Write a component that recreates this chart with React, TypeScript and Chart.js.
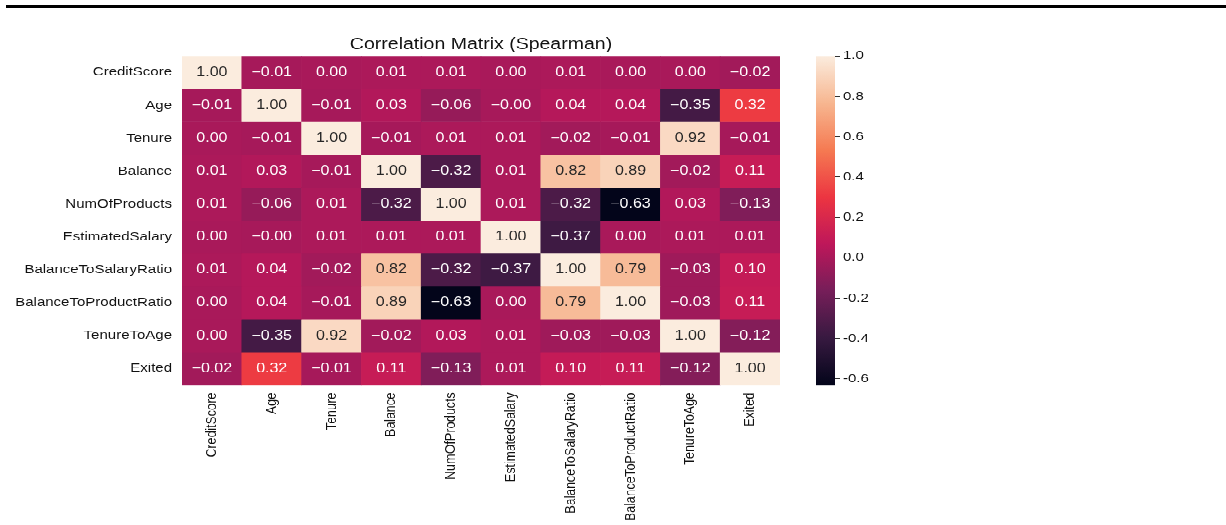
import React, { useEffect, useRef } from "react";
import { Chart, registerables } from "chart.js";

Chart.register(...registerables);

const LABELS = [
  "CreditScore",
  "Age",
  "Tenure",
  "Balance",
  "NumOfProducts",
  "EstimatedSalary",
  "BalanceToSalaryRatio",
  "BalanceToProductRatio",
  "TenureToAge",
  "Exited",
];

const ROW_CREDITSCORE = [1.0, -0.01, 0.0, 0.01, 0.01, 0.0, 0.01, 0.0, 0.0, -0.02];
const ROW_AGE = [-0.01, 1.0, -0.01, 0.03, -0.06, -0.004, 0.04, 0.04, -0.35, 0.32];
const ROW_TENURE = [0.0, -0.01, 1.0, -0.01, 0.01, 0.01, -0.02, -0.01, 0.92, -0.01];
const ROW_BALANCE = [0.01, 0.03, -0.01, 1.0, -0.32, 0.01, 0.82, 0.89, -0.02, 0.11];
const ROW_NUMOFPRODUCTS = [0.01, -0.06, 0.01, -0.32, 1.0, 0.01, -0.32, -0.63, 0.03, -0.13];
const ROW_ESTIMATEDSALARY = [0.0, -0.004, 0.01, 0.01, 0.01, 1.0, -0.37, 0.0, 0.01, 0.01];
const ROW_BALANCETOSALARY = [0.01, 0.04, -0.02, 0.82, -0.32, -0.37, 1.0, 0.79, -0.03, 0.1];
const ROW_BALANCETOPRODUCT = [0.0, 0.04, -0.01, 0.89, -0.63, 0.0, 0.79, 1.0, -0.03, 0.11];
const ROW_TENURETOAGE = [0.0, -0.35, 0.92, -0.02, 0.03, 0.01, -0.03, -0.03, 1.0, -0.12];
const ROW_EXITED = [-0.02, 0.32, -0.01, 0.11, -0.13, 0.01, 0.1, 0.11, -0.12, 1.0];

const MATRIX = [
  ROW_CREDITSCORE,
  ROW_AGE,
  ROW_TENURE,
  ROW_BALANCE,
  ROW_NUMOFPRODUCTS,
  ROW_ESTIMATEDSALARY,
  ROW_BALANCETOSALARY,
  ROW_BALANCETOPRODUCT,
  ROW_TENURETOAGE,
  ROW_EXITED,
];

const VMIN = -0.63;
const VMAX = 1.0;
const COLORBAR_TICKS = [-0.6, -0.4, -0.2, 0.0, 0.2, 0.4, 0.6, 0.8, 1.0];
const TITLE = "Correlation Matrix (Spearman)";

// rocket-like colormap stops (slightly brighter, as in the picture)
const ROCKET: [number, string][] = [
  [0.0, "#03051A"],
  [0.143, "#371940"],
  [0.286, "#761E59"],
  [0.429, "#BE175A"],
  [0.571, "#EC3541"],
  [0.714, "#F57A52"],
  [0.857, "#F7B690"],
  [1.0, "#FBECDE"],
];

const FONT = "'Liberation Sans', Arial, Helvetica, sans-serif";
const SQUASH = 0.8203;
const H = 640;

function hexToRgb(h: string): number[] {
  const n = parseInt(h.slice(1), 16);
  return [(n >> 16) & 255, (n >> 8) & 255, n & 255];
}

function rgbFor(v: number): number[] {
  let t = (v - VMIN) / (VMAX - VMIN);
  t = Math.max(0, Math.min(1, t));
  for (let i = 0; i < ROCKET.length - 1; i++) {
    const [t0, c0] = ROCKET[i];
    const [t1, c1] = ROCKET[i + 1];
    if (t >= t0 && t <= t1) {
      const f = (t - t0) / (t1 - t0);
      const a = hexToRgb(c0);
      const b = hexToRgb(c1);
      return a.map((x, k) => Math.round(x + (b[k] - x) * f));
    }
  }
  return hexToRgb(ROCKET[ROCKET.length - 1][1]);
}

function colorFor(v: number): string {
  const [r, g, b] = rgbFor(v);
  return `rgb(${r},${g},${b})`;
}

function textColorFor(v: number): string {
  const lin = rgbFor(v).map((c) => {
    const s = c / 255;
    return s <= 0.03928 ? s / 12.92 : Math.pow((s + 0.055) / 1.055, 2.4);
  });
  const lum = 0.2126 * lin[0] + 0.7152 * lin[1] + 0.0722 * lin[2];
  return lum > 0.408 ? "#262626" : "#ffffff";
}

function fmt(v: number): string {
  return v.toFixed(2).replace("-", "\u2212");
}

const annotatePlugin = {
  id: "annotate",
  afterDatasetsDraw(chart: any) {
    const ctx = chart.ctx;
    ctx.save();
    ctx.font = `16px ${FONT}`;
    ctx.textAlign = "center";
    ctx.textBaseline = "middle";
    chart.data.datasets.forEach((_: any, i: number) => {
      const meta = chart.getDatasetMeta(i);
      meta.data.forEach((el: any, j: number) => {
        const v = MATRIX[i][j];
        ctx.fillStyle = textColorFor(v);
        ctx.fillText(fmt(v), el.x, (el.y + el.base) / 2);
      });
    });
    ctx.restore();
  },
};

export default function App() {
  const mainRef = useRef<HTMLCanvasElement>(null);
  const cbRef = useRef<HTMLCanvasElement>(null);

  useEffect(() => {
    const chartTop = 56 / SQUASH;
    const chartBottom = 385 / SQUASH;

    const main = new Chart(mainRef.current as HTMLCanvasElement, {
      type: "bar",
      data: {
        labels: LABELS,
        datasets: MATRIX.map((row, i) => ({
          data: row.map(() => [i, i + 1]),
          backgroundColor: row.map((v) => colorFor(v)),
          borderWidth: 0,
          grouped: false,
          barPercentage: 1,
          categoryPercentage: 1,
        })) as any,
      },
      options: {
        animation: false,
        responsive: false,
        devicePixelRatio: 1,
        layout: { padding: { left: 0, right: 20, top: 0, bottom: 0 } },
        plugins: {
          legend: { display: false },
          tooltip: { enabled: false },
          title: {
            display: true,
            text: TITLE,
            fullSize: false,
            color: "#111",
            font: { size: 19.5, family: FONT, weight: "normal" as any },
            padding: { top: chartTop - 19.5 * 1.2 - 2, bottom: 2 },
          },
        },
        scales: {
          x: {
            type: "category",
            position: "bottom",
            grid: { display: false, drawTicks: false },
            border: { display: false },
            ticks: {
              autoSkip: false,
              maxRotation: 90,
              minRotation: 90,
              padding: 9,
              color: "#111",
              font: { size: 15, family: FONT },
            },
            afterFit: (scale: any) => {
              scale.height = H - chartBottom;
            },
          },
          y: {
            type: "linear",
            min: 0,
            max: LABELS.length,
            reverse: true,
            grid: { display: false, drawTicks: false },
            border: { display: false },
            afterBuildTicks: (axis: any) => {
              axis.ticks = LABELS.map((_, i) => ({ value: i + 0.5 }));
            },
            ticks: {
              autoSkip: false,
              padding: 10,
              color: "#111",
              font: { size: 15, family: FONT },
              callback: (_v: any, idx: number) => LABELS[idx],
            },
            afterFit: (scale: any) => {
              scale.width = 182;
            },
          },
        },
      },
      plugins: [annotatePlugin],
    });

    const cb = new Chart(cbRef.current as HTMLCanvasElement, {
      type: "bar",
      data: {
        labels: [""],
        datasets: [
          {
            data: [[VMIN, VMAX]] as any,
            borderWidth: 0,
            barPercentage: 1,
            categoryPercentage: 1,
            backgroundColor: (c: any) => {
              const chart = c.chart;
              if (!chart.chartArea) return ROCKET[ROCKET.length - 1][1];
              const ys = chart.scales.y;
              const g = chart.ctx.createLinearGradient(
                0,
                ys.getPixelForValue(VMIN),
                0,
                ys.getPixelForValue(VMAX)
              );
              ROCKET.forEach(([t, col]) => g.addColorStop(t, col));
              return g;
            },
          },
        ],
      },
      options: {
        animation: false,
        responsive: false,
        devicePixelRatio: 1,
        layout: {
          padding: { left: 26, right: 0, top: chartTop, bottom: H - chartBottom },
        },
        plugins: {
          legend: { display: false },
          tooltip: { enabled: false },
          title: { display: false },
        },
        scales: {
          x: { display: false },
          y: {
            type: "linear",
            position: "right",
            min: VMIN,
            max: VMAX,
            grid: {
              display: true,
              drawOnChartArea: false,
              drawTicks: true,
              tickLength: 5,
              color: "#333",
            },
            border: { display: false },
            afterBuildTicks: (axis: any) => {
              axis.ticks = COLORBAR_TICKS.map((v) => ({ value: v }));
            },
            ticks: {
              autoSkip: false,
              padding: 3,
              color: "#111",
              font: { size: 15, family: FONT },
              callback: (v: any) => Number(v).toFixed(1),
            },
            afterFit: (scale: any) => {
              scale.width = 75;
            },
          },
        },
      },
    });

    return () => {
      main.destroy();
      cb.destroy();
    };
  }, []);

  return (
    <div style={{ position: "absolute", left: 0, top: 0, width: 1226, height: 525, background: "#fff", overflow: "hidden" }}>
      <div style={{ position: "absolute", left: 6, top: 5, width: 1220, height: 2.5, background: "#000" }} />
      <div
        style={{
          position: "absolute",
          left: 0,
          top: 0,
          width: 1226,
          height: H,
          transform: `scaleY(${SQUASH})`,
          transformOrigin: "0 0",
        }}
      >
        <canvas ref={mainRef} width={800} height={H} style={{ position: "absolute", left: 0, top: 0 }} />
        <canvas ref={cbRef} width={120} height={H} style={{ position: "absolute", left: 790, top: 0 }} />
      </div>
    </div>
  );
}
